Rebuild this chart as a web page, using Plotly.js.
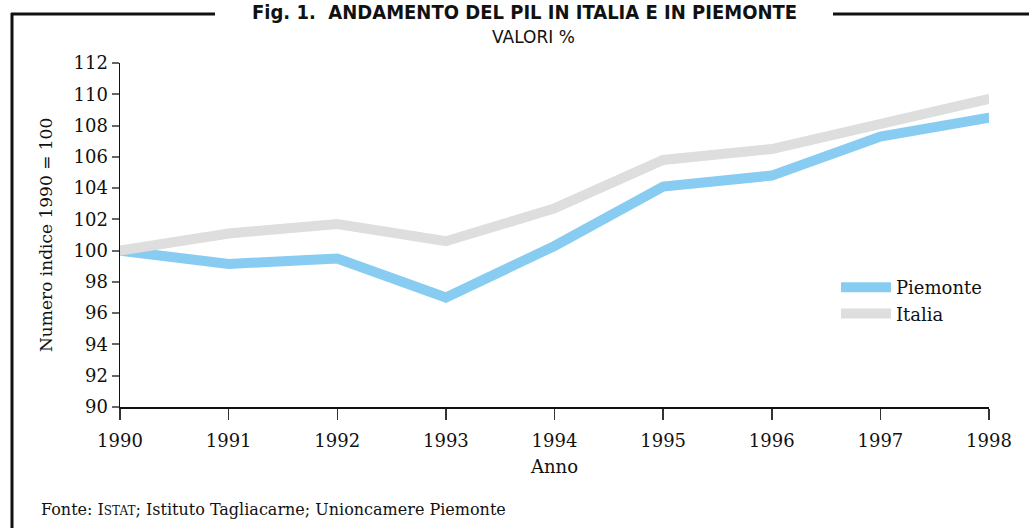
<!DOCTYPE html>
<html><head><meta charset="utf-8">
<script src="https://cdn.plot.ly/plotly-3.0.1.min.js"></script>
<style>html,body{margin:0;padding:0;background:#fff}#chart{width:1029px;height:528px}</style>
</head><body><div id="chart"></div>
<script>
var anni = [1990, 1991, 1992, 1993, 1994, 1995, 1996, 1997, 1998];
var piemonte = [100, 99.15, 99.5, 97.0, 100.3, 104.1, 104.8, 107.3, 108.5];
var italia = [100, 101.1, 101.7, 100.6, 102.7, 105.8, 106.5, 108.1, 109.7];
var yTicks = [90, 92, 94, 96, 98, 100, 102, 104, 106, 108, 110, 112];

var W = 1029, H = 528, L = 120, R = 40, T = 63, B = 121;
var pw = W - L - R, ph = H - T - B;
function px(x) { return (x - L) / pw; }
function py(y) { return (H - B - y) / ph; }

var serif = "DejaVu Serif, serif";
var endSizes = anni.map(function (a, i) { return (i === 0 || i === anni.length - 1) ? 10 : 0; });
var traces = [
  {x: anni, y: piemonte, name: "Piemonte", mode: "lines+markers", line: {color: "#88ccf2", width: 10},
   marker: {color: "#88ccf2", size: endSizes, line: {width: 0}}},
  {x: anni, y: italia, name: "Italia", mode: "lines+markers", line: {color: "#dedede", width: 10},
   marker: {color: "#dedede", size: endSizes, line: {width: 0}}}
];
var borderLine = {color: "#111", width: 3};
var layout = {
  width: W, height: H,
  margin: {l: L, r: R, t: T, b: B},
  paper_bgcolor: "#fff", plot_bgcolor: "#fff",
  showlegend: true,
  legend: {x: px(836), y: py(269), xanchor: "left", yanchor: "top",
           font: {family: serif, size: 18, color: "#111"}, itemwidth: 50, tracegroupgap: 0, bgcolor: "rgba(0,0,0,0)"},
  xaxis: {range: [1990, 1998], tickvals: anni, showgrid: false, zeroline: false,
          showline: true, linecolor: "#111", linewidth: 1.5, ticks: "outside", ticklen: 11, tickcolor: "#333", tickwidth: 1.5,
          ticklabelstandoff: 6,
          tickfont: {family: serif, size: 18, color: "#111"},
          title: {text: "Anno", font: {family: serif, size: 18, color: "#111"}, standoff: 10}},
  yaxis: {range: [90, 112], tickvals: yTicks, showgrid: false, zeroline: false,
          showline: true, linecolor: "#111", linewidth: 1.5, ticks: "outside", ticklen: 7, tickcolor: "#666", tickwidth: 2,
          tickfont: {family: serif, size: 18, color: "#111"}},
  shapes: [
    {type: "line", xref: "paper", yref: "paper", x0: px(12), x1: px(12), y0: py(13), y1: py(540), line: borderLine},
    {type: "line", xref: "paper", yref: "paper", x0: px(11), x1: px(215), y0: py(14), y1: py(14), line: borderLine},
    {type: "line", xref: "paper", yref: "paper", x0: px(833), x1: px(1035), y0: py(14), y1: py(14), line: borderLine}
  ],
  annotations: [
    {text: "Fig. 1.  ANDAMENTO DEL PIL IN ITALIA E IN PIEMONTE", xref: "paper", yref: "paper",
     x: px(524), y: py(12), xanchor: "center", yanchor: "middle", showarrow: false,
     font: {family: "DejaVu Sans Condensed, DejaVu Sans, sans-serif", size: 20, color: "#111", weight: "bold"}},
    {text: "VALORI %", xref: "paper", yref: "paper", x: px(533), y: py(37), xanchor: "center", yanchor: "middle", showarrow: false,
     font: {family: "DejaVu Sans, sans-serif", size: 17, color: "#111"}},
    {text: "Numero indice 1990 = 100", xref: "paper", yref: "paper", x: px(46), y: py(235), textangle: -90,
     xanchor: "center", yanchor: "middle", showarrow: false,
     font: {family: serif, size: 17, color: "#111"}},
    {text: "Fonte: I<span style='font-size:12px'>STAT</span>; Istituto Tagliacarne; Unioncamere Piemonte", xref: "paper", yref: "paper",
     x: px(39), y: py(510), xanchor: "left", yanchor: "middle", showarrow: false,
     font: {family: serif, size: 16, color: "#111"}}
  ]
};
Plotly.newPlot("chart", traces, layout, {displayModeBar: false, staticPlot: true});
</script></body></html>
